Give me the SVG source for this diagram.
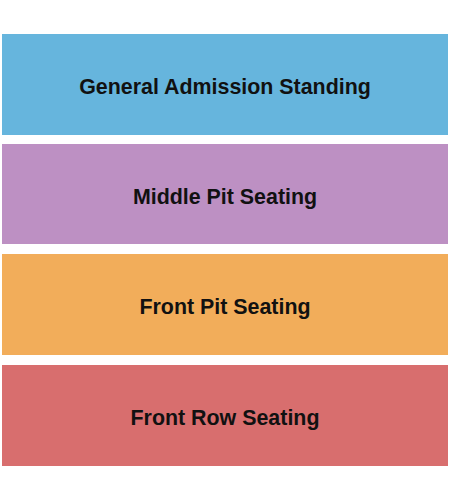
<svg xmlns="http://www.w3.org/2000/svg" width="450" height="500" viewBox="0 0 450 500">
<style>
.t{font-family:"Liberation Sans",Arial,sans-serif;font-weight:bold;font-size:21.4px;fill:#111;text-anchor:middle}
</style>
<rect width="450" height="500" fill="#fff"/>
<g id="ga"><rect x="2" y="34" width="446" height="101" fill="#66B5DD"/><text class="t" x="225" y="93.5">General Admission Standing</text></g>
<g id="middle"><rect x="2" y="144" width="446" height="100" fill="#BD90C3"/><text class="t" x="225" y="203.5">Middle Pit Seating</text></g>
<g id="front"><rect x="2" y="254" width="446" height="101" fill="#F2AD5A"/><text class="t" x="225" y="313.5">Front Pit Seating</text></g>
<g id="frontrow"><rect x="2" y="365" width="446" height="101" fill="#D86E6E"/><text class="t" x="225" y="424.5">Front Row Seating</text></g>
<g id="connectors"/>
</svg>
